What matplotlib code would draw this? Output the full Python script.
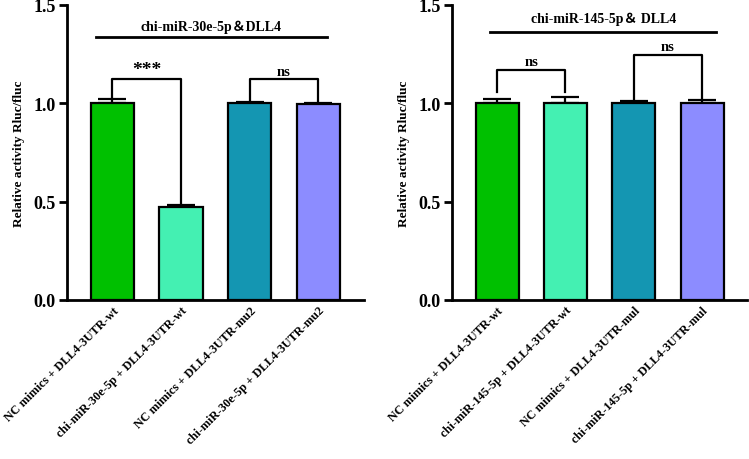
import matplotlib
matplotlib.use("Agg")
import matplotlib.pyplot as plt
import matplotlib.transforms as mtransforms
import numpy as np

plt.rcParams['font.family'] = ['Liberation Serif', 'Noto Sans CJK SC']
plt.rcParams['font.weight'] = 'bold'

left_labels = ["NC mimics + DLL4-3UTR-wt", "chi-miR-30e-5p + DLL4-3UTR-wt",
               "NC mimics + DLL4-3UTR-mu2", "chi-miR-30e-5p + DLL4-3UTR-mu2"]
left_vals = [1.0, 0.47, 1.0, 0.997]
left_err = [0.02, 0.01, 0.006, 0.004]
left_title = "chi-miR-30e-5p＆DLL4"

right_labels = ["NC mimics + DLL4-3UTR-wt", "chi-miR-145-5p + DLL4-3UTR-wt",
                "NC mimics + DLL4-3UTR-mul", "chi-miR-145-5p + DLL4-3UTR-mul"]
right_vals = [1.0, 1.003, 1.0, 1.0]
right_err = [0.02, 0.027, 0.009, 0.016]
right_title = "chi-miR-145-5p＆ DLL4"

colors = ["#00C000", "#44F0B2", "#1496B2", "#8C8CFF"]
ylabel = "Relative activity Rluc/fluc"

fig = plt.figure(figsize=(7.49, 4.60), dpi=100)
ax1 = fig.add_axes([0.0895, 0.346, 0.396, 0.641])
ax2 = fig.add_axes([0.6035, 0.346, 0.394, 0.641])

offset = mtransforms.ScaledTranslation(0.11, -0.01, fig.dpi_scale_trans)

def draw(ax, labels, vals, errs, title, title_y, line_y, line_x, brackets):
    x = np.arange(len(vals))
    ax.bar(x, vals, width=0.63, color=colors, edgecolor='black', linewidth=1.6, zorder=2)
    ax.errorbar(x, vals, yerr=[np.zeros(len(errs)), errs], fmt='none', ecolor='black',
                elinewidth=1.6, capsize=10, capthick=1.6, zorder=1)
    ax.set_xlim(-0.66, 3.66)
    ax.set_ylim(0, 1.5)
    ax.set_yticks([0, 0.5, 1.0, 1.5])
    ax.set_yticklabels(["0.0", "0.5", "1.0", "1.5"], fontsize=13, fontweight='bold')
    ax.set_xticks(x)
    ax.set_xticklabels(labels, rotation=45, ha='right', rotation_mode='anchor',
                       fontsize=8.8, fontweight='bold')
    for lab in ax.get_xticklabels():
        lab.set_transform(lab.get_transform() + offset)
    ax.tick_params(axis='x', length=0, pad=3)
    ax.tick_params(axis='y', length=6, width=2, pad=2)
    for s in ['top', 'right']:
        ax.spines[s].set_visible(False)
    for s in ['left', 'bottom']:
        ax.spines[s].set_linewidth(2)
    ax.set_ylabel(ylabel, fontsize=9.5, fontweight='bold')
    ax.yaxis.set_label_coords(-0.142, 0.5)
    ax.plot(line_x, [line_y, line_y], color='black', lw=2, clip_on=False)
    ax.text(np.mean(line_x), title_y, title, ha='center', va='center', fontsize=10,
            fontweight='bold')
    for (i, j, top, yl, yr, txt, ty) in brackets:
        ax.plot([i, i, j, j], [yl, top, top, yr], color='black', lw=1.6, clip_on=False)
        ax.text((i + j) / 2, ty, txt, ha='center', va='center',
                fontsize=14 if txt.startswith('*') else 10.5, fontweight='bold')

draw(ax1, left_labels, left_vals, left_err, left_title, 1.39, 1.335, [-0.24, 3.12],
     [(0, 1, 1.122, 1.025, 0.48, "***", 1.17),
      (2, 3, 1.122, 1.01, 1.005, "ns", 1.16)])
draw(ax2, right_labels, right_vals, right_err, right_title, 1.43, 1.365, [-0.1, 3.21],
     [(0, 1, 1.167, 1.057, 1.057, "ns", 1.21),
      (2, 3, 1.245, 1.02, 1.02, "ns", 1.29)])

fig.savefig("out.png", dpi=100)
